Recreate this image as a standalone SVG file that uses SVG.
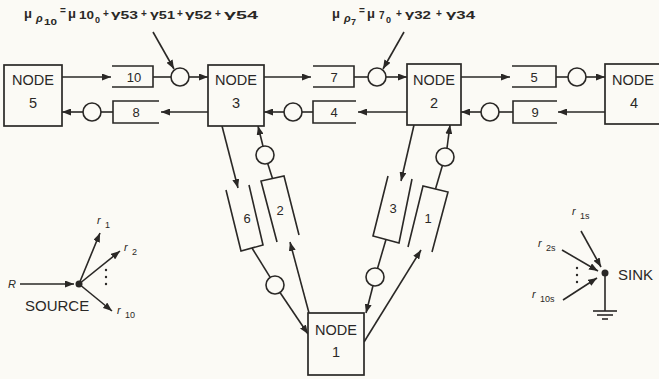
<svg xmlns="http://www.w3.org/2000/svg" width="659" height="379" viewBox="0 0 659 379">
<style>
.bg{fill:#fbfaf5}
.ln{stroke:#2a2826;stroke-width:1.6;fill:none}
.box{stroke:#2a2826;stroke-width:1.7;fill:#fbfaf5}
.cir{stroke:#2a2826;stroke-width:1.6;fill:#fbfaf5}
.t{font-family:"Liberation Sans",Arial,sans-serif;fill:#2a2826}
.nd{font-size:14.5px;text-anchor:middle}
.bf{font-size:13px;text-anchor:middle}
.lb{font-size:15px}
.f{font-size:11px;font-weight:bold}
.mu{font-size:13px}
.r{font-size:11px;font-style:italic}
.rs{font-size:9px}
</style>
<defs>
<marker id="ah" markerWidth="9" markerHeight="7" refX="9" refY="3.5" orient="auto" markerUnits="userSpaceOnUse">
<path d="M0,0 L9,3.5 L0,7 z" fill="#2a2826"/>
</marker>
</defs>
<rect class="bg" x="0" y="0" width="659" height="379"/>

<g id="connectors">
<!-- top row -->
<line class="ln" x1="62" y1="77" x2="111" y2="77" marker-end="url(#ah)"/>
<path class="ln" d="M112,66 H153 V87 H112"/>
<line class="ln" x1="153" y1="77" x2="171" y2="77"/>
<circle class="cir" cx="180" cy="77" r="9"/>
<line class="ln" x1="189" y1="77" x2="208" y2="77" marker-end="url(#ah)"/>

<line class="ln" x1="264" y1="77" x2="311" y2="77" marker-end="url(#ah)"/>
<path class="ln" d="M313,66 H354 V87 H313"/>
<line class="ln" x1="354" y1="77" x2="368" y2="77"/>
<circle class="cir" cx="377" cy="77" r="9"/>
<line class="ln" x1="386" y1="77" x2="407" y2="77" marker-end="url(#ah)"/>

<line class="ln" x1="461" y1="77" x2="510" y2="77" marker-end="url(#ah)"/>
<path class="ln" d="M512,66 H556 V87 H512"/>
<line class="ln" x1="556" y1="77" x2="568" y2="77"/>
<circle class="cir" cx="577" cy="77" r="9"/>
<line class="ln" x1="586" y1="77" x2="605" y2="77" marker-end="url(#ah)"/>

<!-- lower row -->
<line class="ln" x1="605" y1="112" x2="558" y2="112" marker-end="url(#ah)"/>
<path class="ln" d="M557,101 H513 V123 H557"/>
<line class="ln" x1="513" y1="112" x2="499" y2="112"/>
<circle class="cir" cx="490" cy="112" r="9"/>
<line class="ln" x1="481" y1="112" x2="461" y2="112" marker-end="url(#ah)"/>

<line class="ln" x1="407" y1="112" x2="358" y2="112" marker-end="url(#ah)"/>
<path class="ln" d="M356,101 H313 V123 H356"/>
<line class="ln" x1="313" y1="112" x2="302" y2="112"/>
<circle class="cir" cx="293" cy="112" r="9"/>
<line class="ln" x1="284" y1="112" x2="264" y2="112" marker-end="url(#ah)"/>

<line class="ln" x1="208" y1="112" x2="161" y2="112" marker-end="url(#ah)"/>
<path class="ln" d="M159,101 H113 V123 H159"/>
<line class="ln" x1="113" y1="112" x2="101" y2="112"/>
<circle class="cir" cx="92" cy="112" r="9"/>
<line class="ln" x1="83" y1="112" x2="62" y2="112" marker-end="url(#ah)"/>

<!-- left diagonal -->
<line class="ln" x1="222" y1="126" x2="238" y2="188" marker-end="url(#ah)"/>
<path class="ln" d="M226,190 L241,251 L263,245 L249,185"/>
<line class="ln" x1="252" y1="248" x2="270.2" y2="277.4"/>
<circle class="cir" cx="275" cy="285" r="9"/>
<line class="ln" x1="280" y1="292.5" x2="308" y2="334" marker-end="url(#ah)"/>

<path class="ln" d="M277,242 L261,181 L284,176 L299,235"/>
<line class="ln" x1="272.5" y1="178.5" x2="267.7" y2="163.6"/>
<circle class="cir" cx="265" cy="155" r="9"/>
<line class="ln" x1="263" y1="146.3" x2="258" y2="126" marker-end="url(#ah)"/>
<line class="ln" x1="309" y1="313" x2="290" y2="242" marker-end="url(#ah)"/>

<!-- right diagonal -->
<line class="ln" x1="414" y1="125" x2="401" y2="181" marker-end="url(#ah)"/>
<path class="ln" d="M412,179 L399,243 L373,236 L388,176"/>
<line class="ln" x1="386" y1="239.5" x2="377.5" y2="268.4"/>
<circle class="cir" cx="375" cy="277" r="9"/>
<line class="ln" x1="373" y1="285.8" x2="366" y2="313" marker-end="url(#ah)"/>

<path class="ln" d="M408,247 L423,186 L448,192 L432,252"/>
<line class="ln" x1="435.5" y1="189" x2="442.4" y2="165.6"/>
<circle class="cir" cx="445" cy="157" r="9"/>
<line class="ln" x1="447" y1="148" x2="450" y2="125" marker-end="url(#ah)"/>
<line class="ln" x1="364" y1="342" x2="421" y2="250" marker-end="url(#ah)"/>

<!-- formula pointers -->
<line class="ln" x1="153" y1="32" x2="174" y2="69" marker-end="url(#ah)"/>
<line class="ln" x1="404" y1="32" x2="383" y2="69" marker-end="url(#ah)"/>
</g>

<g id="node5"><rect class="box" x="4" y="65" width="58" height="61"/>
<text class="t nd" x="33" y="85">NODE</text><text class="t nd" x="33" y="108">5</text></g>
<g id="node3"><rect class="box" x="208" y="65" width="56" height="61"/>
<text class="t nd" x="236" y="85">NODE</text><text class="t nd" x="236" y="108">3</text></g>
<g id="node2"><rect class="box" x="407" y="64" width="54" height="61"/>
<text class="t nd" x="434" y="85">NODE</text><text class="t nd" x="434" y="108">2</text></g>
<g id="node4"><rect class="box" x="605" y="64" width="62" height="60"/>
<text class="t nd" x="633" y="85">NODE</text><text class="t nd" x="634" y="108">4</text></g>
<g id="node1"><rect class="box" x="308" y="313" width="56" height="62"/>
<text class="t nd" x="336" y="335">NODE</text><text class="t nd" x="336" y="357">1</text></g>

<g id="buffers">
<text class="t bf" x="134" y="82">10</text>
<text class="t bf" x="334" y="82">7</text>
<text class="t bf" x="534" y="82">5</text>
<text class="t bf" x="136" y="117">8</text>
<text class="t bf" x="334" y="117">4</text>
<text class="t bf" x="535" y="117">9</text>
<text class="t bf" x="247" y="223">6</text>
<text class="t bf" x="280" y="215">2</text>
<text class="t bf" x="393" y="213">3</text>
<text class="t bf" x="428" y="223" font-size="11">1</text>
</g>

<g id="formula1" class="t f">
<text class="mu" x="24" y="18">μ</text>
<text x="36" y="22" font-style="italic" font-size="11">ρ</text>
<text x="44" y="25" font-size="9" textLength="13" lengthAdjust="spacingAndGlyphs">10</text>
<text x="60" y="14" font-size="10">=</text>
<text class="mu" x="68" y="18">μ</text>
<text x="79" y="19" font-size="10" textLength="15" lengthAdjust="spacingAndGlyphs">10</text>
<text x="95" y="23" font-size="9">0</text>
<text x="103" y="17" font-size="10">+</text>
<text x="111" y="18" textLength="27" lengthAdjust="spacingAndGlyphs">γ<tspan dy="1" font-size="10">53</tspan></text>
<text x="141" y="17" font-size="10">+</text>
<text x="150" y="18" textLength="25" lengthAdjust="spacingAndGlyphs">γ<tspan dy="1" font-size="10">51</tspan></text>
<text x="177" y="17" font-size="10">+</text>
<text x="185" y="18" textLength="27" lengthAdjust="spacingAndGlyphs">γ<tspan dy="1" font-size="10">52</tspan></text>
<text x="215" y="17" font-size="10">+</text>
<text x="224" y="18" textLength="34" lengthAdjust="spacingAndGlyphs">γ<tspan dy="1" font-size="10">54</tspan></text>
</g>

<g id="formula2" class="t f">
<text class="mu" x="332" y="18">μ</text>
<text x="344" y="22" font-style="italic" font-size="11">ρ</text>
<text x="351" y="25" font-size="9">7</text>
<text x="359" y="14" font-size="10">=</text>
<text class="mu" x="367" y="18">μ</text>
<text x="379" y="19" font-size="10">7</text>
<text x="386" y="23" font-size="9">0</text>
<text x="396" y="17" font-size="10">+</text>
<text x="405" y="18" textLength="26" lengthAdjust="spacingAndGlyphs">γ<tspan dy="1" font-size="10">32</tspan></text>
<text x="436" y="17" font-size="10">+</text>
<text x="446" y="18" textLength="29" lengthAdjust="spacingAndGlyphs">γ<tspan dy="1" font-size="10">34</tspan></text>
</g>

<g id="source">
<text class="t r" x="8" y="288">R</text>
<line class="ln" x1="20" y1="284" x2="74" y2="284" marker-end="url(#ah)"/>
<circle cx="79" cy="284" r="3.5" fill="#2a2826"/>
<line class="ln" x1="79" y1="284" x2="100" y2="233" marker-end="url(#ah)"/>
<line class="ln" x1="79" y1="284" x2="120" y2="251" marker-end="url(#ah)"/>
<line class="ln" x1="79" y1="284" x2="112" y2="311" marker-end="url(#ah)"/>
<circle cx="106" cy="270" r="1.2" fill="#2a2826"/>
<circle cx="106" cy="277" r="1.2" fill="#2a2826"/>
<circle cx="106" cy="284" r="1.2" fill="#2a2826"/>
<text class="t r" x="97" y="224">r</text><text class="t rs" x="105" y="228">1</text>
<text class="t r" x="124" y="251">r</text><text class="t rs" x="132" y="255">2</text>
<text class="t r" x="117" y="314">r</text><text class="t rs" x="125" y="318">10</text>
<text class="t lb" x="25" y="311">SOURCE</text>
</g>

<g id="sink">
<circle cx="605" cy="273" r="3.5" fill="#2a2826"/>
<line class="ln" x1="581" y1="231" x2="601" y2="267" marker-end="url(#ah)"/>
<line class="ln" x1="562" y1="250" x2="598" y2="271" marker-end="url(#ah)"/>
<line class="ln" x1="563" y1="300" x2="597" y2="278" marker-end="url(#ah)"/>
<circle cx="577" cy="268" r="1.2" fill="#2a2826"/>
<circle cx="577" cy="275" r="1.2" fill="#2a2826"/>
<circle cx="577" cy="282" r="1.2" fill="#2a2826"/>
<line class="ln" x1="605" y1="273" x2="605" y2="311"/>
<line class="ln" x1="593" y1="311" x2="617" y2="311"/>
<line class="ln" x1="597" y1="315" x2="613" y2="315"/>
<line class="ln" x1="602" y1="319" x2="608" y2="319"/>
<text class="t lb" x="618" y="280">SINK</text>
<text class="t r" x="572" y="215">r</text><text class="t rs" x="580" y="219">1s</text>
<text class="t r" x="538" y="247">r</text><text class="t rs" x="546" y="251">2s</text>
<text class="t r" x="532" y="298">r</text><text class="t rs" x="540" y="302">10s</text>
</g>
</svg>
